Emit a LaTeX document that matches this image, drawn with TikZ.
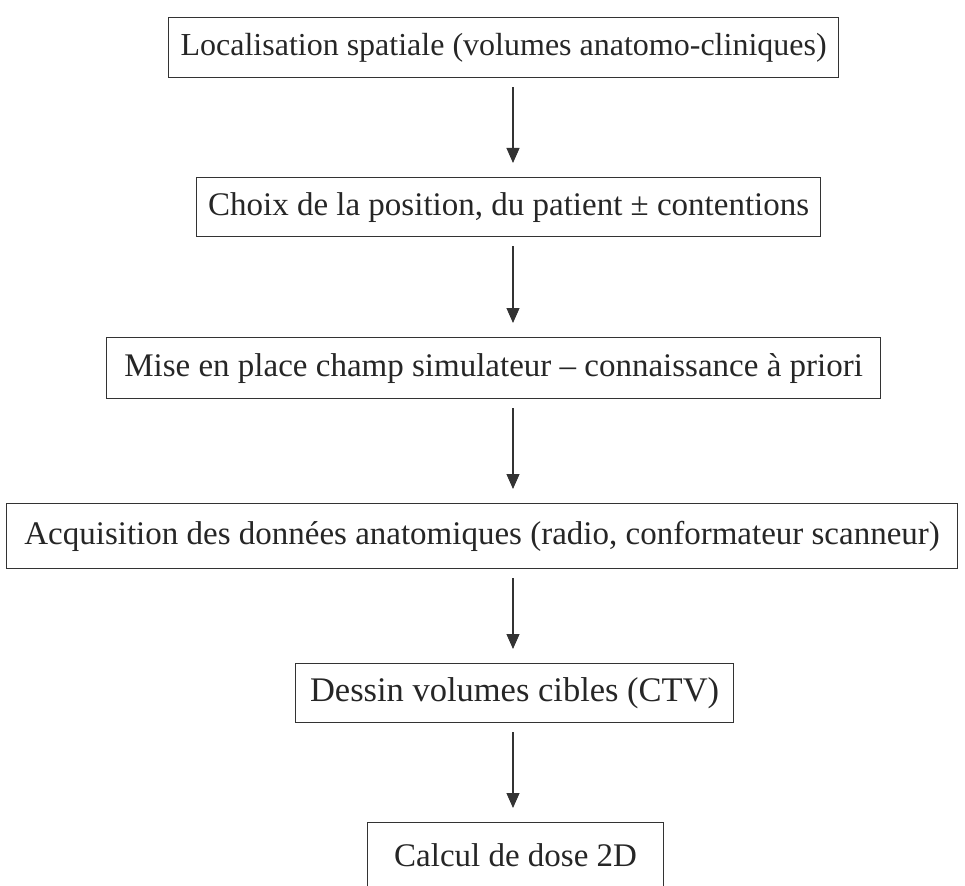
\documentclass[tikz,border=0pt]{standalone}
\usepackage{fontspec}
\setmainfont{Liberation Serif}
\usetikzlibrary{arrows.meta}
\definecolor{ink}{HTML}{333333}
\tikzset{
  stepbox/.style={draw=ink, line width=1.2pt, inner sep=0pt, anchor=north west,
    font=\fontsize{33}{36}\selectfont, text=black!85},
  arr/.style={draw=ink, line width=1.1pt, -{Triangle[width=13pt,length=15pt]},
    shorten <=9pt, shorten >=14pt}
}
\begin{document}
\begin{tikzpicture}[x=1pt,y=-1pt]
\useasboundingbox (0,0) rectangle (965,885);
\clip (0,0) rectangle (965,885);
\node[stepbox, minimum width=670pt, minimum height=60pt, font=\fontsize{32}{36}\selectfont] (b1) at (168,17) {Localisation spatiale (volumes anatomo-cliniques)};
\node[stepbox, minimum width=624pt, minimum height=59pt] (b2) at (196,177) {Choix de la position, du patient ± contentions};
\node[stepbox, minimum width=774pt, minimum height=61pt] (b3) at (106,337) {Mise en place champ simulateur – connaissance à priori};
\node[stepbox, minimum width=951pt, minimum height=65pt] (b4) at (6,503) {Acquisition des données anatomiques (radio, conformateur scanneur)};
\node[stepbox, minimum width=438pt, minimum height=59pt, font=\fontsize{34.5}{38}\selectfont] (b5) at (295,663) {Dessin volumes cibles (CTV)};
\node[stepbox, minimum width=296pt, minimum height=70pt, text depth=0pt] (b6) at (367,822) {\raisebox{6pt}{Calcul de dose 2D}};
\coordinate (ax) at (513,0);
\draw[arr] (b1.south -| ax) -- (b2.north -| ax);
\draw[arr] (b2.south -| ax) -- (b3.north -| ax);
\draw[arr] (b3.south -| ax) -- (b4.north -| ax);
\draw[arr] (b4.south -| ax) -- (b5.north -| ax);
\draw[arr] (b5.south -| ax) -- (b6.north -| ax);
\end{tikzpicture}
\end{document}
